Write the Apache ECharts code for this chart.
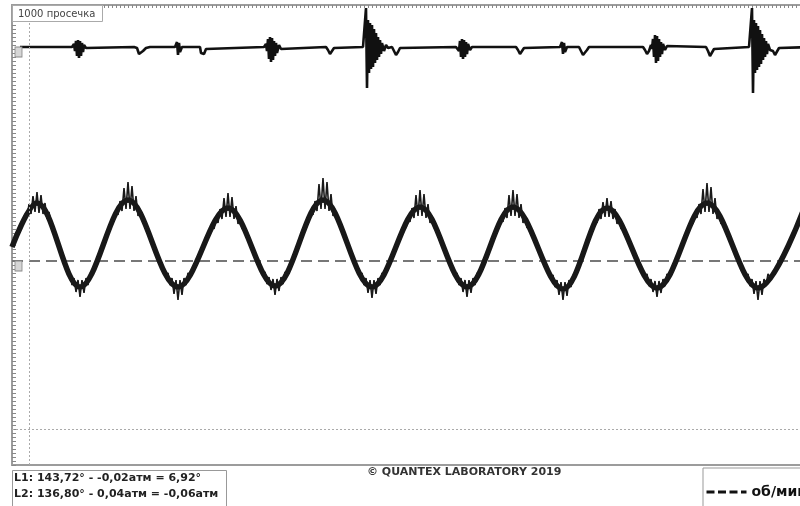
<!DOCTYPE html>
<html>
<head>
<meta charset="utf-8">
<script src="https://cdn.jsdelivr.net/npm/echarts@6.0.0/dist/echarts.min.js"></script>
<style>
  html, body { margin: 0; padding: 0; background: #fff; }
  #chart { width: 800px; height: 506px; }
</style>
</head>
<body>
<div id="chart"></div>
<script>
// канал 1 (верхний) – [мс, уровень]
const ch1Points = [
  [8,418],[60,418],[62,421],[63,414],[64,424],[65,409],[66,425],[67,407],[68,424],[69,409],[70,422],[71,413],[72,420],[74,417],[76,418],
  [122,418],[125,417],[127,411],[129,410],[131,414],[134,417],[138,418],
  [163,418],[165,423],[166,410],[167,422],[168,413],[170,418],
  [188,418],[189,412],[192,411],[194,416],[196,418],
  [252,418],[254,421],[255,414],[256,426],[257,406],[258,428],[259,403],[260,427],[261,405],[262,424],[263,409],[264,422],[265,412],[267,420],[269,416],[271,418],
  [314,418],[316,415],[318,411],[320,413],[322,417],[324,418],
  [351,418],[353,419],[354,457],[355,377],[356,445],[357,392],[358,442],[359,396],[360,440],[361,398],[362,436],[363,402],[364,432],[365,405],[366,428],[367,408],[368,425],[369,411],[370,422],[372,414],[374,420],[376,417],[378,418],
  [380,418],[382,414],[384,410],[386,413],[388,417],[390,418],
  [444,418],[446,420],[447,414],[448,424],[449,408],[450,426],[451,406],[452,425],[453,408],[454,423],[455,411],[456,421],[458,415],[460,418],
  [504,418],[506,415],[508,411],[510,413],[512,417],[514,418],
  [548,418],[550,423],[551,411],[552,422],[553,413],[555,418],
  [567,418],[569,414],[571,410],[573,410],[575,415],[577,418],
  [631,418],[633,415],[635,411],[637,414],[639,420],[640,416],[641,426],[642,408],[643,430],[644,402],[645,429],[646,404],[647,426],[648,408],[649,423],[650,411],[651,421],[653,415],[655,419],[657,418],
  [694,418],[696,414],[698,409],[700,411],[702,416],[704,418],
  [737,418],[739,419],[740,457],[741,372],[742,445],[743,392],[744,442],[745,395],[746,439],[747,398],[748,435],[749,401],[750,431],[751,405],[752,427],[753,408],[754,424],[755,411],[756,421],[758,415],
  [761,414],[763,410],[765,412],[767,417],[769,418],[800,418]
];

// канал 2 (нижний) – основная кривая: пики и впадины
const ch2Wave = [
  [0,218],[25,262],[68,178],[116,265],[166,178],
  [216,257],[263,179],[311,265],[360,178],
  [408,258],[455,178],[501,258],[551,176],
  [595,257],[645,177],[695,262],[746,177],
  [794,262]
];

// канал 2 – шум на вершинах
const ch2PeakNoise = [
  [[11,241],[13,251],[15,247],[17,261],[19,251],[21,269],[23,253],[25,273],[27,252],[29,270],[31,251],[33,262],[35,246],[37,253],[39,241]],
  [[102,244],[104,254],[106,250],[108,264],[110,254],[112,277],[114,256],[116,283],[118,256],[120,279],[122,254],[124,269],[126,249],[128,256],[130,244]],
  [[202,236],[204,246],[206,242],[208,256],[210,246],[212,267],[214,248],[216,272],[218,248],[220,268],[222,246],[224,259],[226,241],[228,248],[230,236]],
  [[297,244],[299,254],[301,250],[303,264],[305,254],[307,281],[309,256],[311,287],[313,256],[315,283],[317,254],[319,271],[321,249],[323,256],[325,244]],
  [[394,237],[396,247],[398,243],[400,257],[402,247],[404,270],[406,249],[408,275],[410,249],[412,271],[414,247],[416,261],[418,242],[420,249],[422,237]],
  [[487,237],[489,247],[491,243],[493,257],[495,247],[497,270],[499,249],[501,275],[503,249],[505,271],[507,247],[509,261],[511,242],[513,249],[515,237]],
  [[581,236],[583,246],[585,242],[587,256],[589,246],[591,263],[593,248],[595,267],[597,248],[599,264],[601,246],[603,256],[605,241],[607,248],[609,236]],
  [[681,241],[683,251],[685,247],[687,261],[689,251],[691,276],[693,253],[695,282],[697,253],[699,278],[701,251],[703,267],[705,246],[707,253],[709,241]]
];

// канал 2 – шум во впадинах
const ch2TroughNoise = [
  [[56,189],[58,192],[60,180],[62,187],[64,173],[66,185],[68,168],[70,185],[72,172],[74,187],[76,180],[78,192],[80,189]],
  [[154,189],[156,192],[158,180],[160,187],[162,171],[164,185],[166,165],[168,185],[170,170],[172,187],[174,180],[176,192],[178,189]],
  [[251,190],[253,193],[255,181],[257,188],[259,175],[261,186],[263,170],[265,186],[267,174],[269,188],[271,181],[273,193],[275,190]],
  [[348,189],[350,192],[352,180],[354,187],[356,172],[358,185],[360,167],[362,185],[364,171],[366,187],[368,180],[370,192],[372,189]],
  [[443,189],[445,192],[447,180],[449,187],[451,173],[453,185],[455,168],[457,185],[459,172],[461,187],[463,180],[465,192],[467,189]],
  [[539,187],[541,190],[543,178],[545,185],[547,170],[549,183],[551,165],[553,183],[555,169],[557,185],[559,178],[561,190],[563,187]],
  [[633,188],[635,191],[637,179],[639,186],[641,173],[643,184],[645,168],[647,184],[649,172],[651,186],[653,179],[655,191],[657,188]],
  [[734,188],[736,191],[738,179],[740,186],[742,171],[744,184],[746,165],[748,184],[750,170],[752,186],[754,179],[756,191],[758,188]]
];

const rpmLine = [[0,204],[800,204]];   // об/мин
const refX = [17];                     // пунктир по вертикали
const refY = [36];                     // пунктир по горизонтали
const chMarks = [[6.5,413],[6.5,199]]; // метки каналов

const labelTop = '1000 просечка';
const cursorText = 'L1: 143,72° - -0,02атм = 6,92°\nL2: 136,80° - 0,04атм = -0,06атм';
const copyright = '© QUANTEX LABORATORY 2019';

const font = 'DejaVu Sans';
const chart = echarts.init(document.getElementById('chart'));

const noiseSeries = ch2PeakNoise.concat(ch2TroughNoise).map(function (d) {
  return {
    type: 'line',
    data: d,
    symbol: 'none',
    silent: true,
    lineStyle: { color: '#1a1a1a', width: 1.6 },
    z: 3
  };
});

chart.setOption({
  animation: false,
  backgroundColor: '#fff',
  textStyle: { fontFamily: font },
  title: [
    {
      text: labelTop,
      left: 12, top: 5,
      padding: [4, 7, 3, 6],
      backgroundColor: '#fff',
      borderColor: '#aaa', borderWidth: 1,
      textStyle: { fontSize: 10, fontWeight: 'normal', color: '#444', fontFamily: font }
    },
    {
      text: cursorText,
      left: 12, top: 470,
      padding: [0, 8, 8, 2],
      backgroundColor: '#fff',
      borderColor: '#999', borderWidth: 1,
      textStyle: { fontSize: 11, fontWeight: 'bold', color: '#222', lineHeight: 16, fontFamily: font }
    },
    {
      text: copyright,
      left: 367, top: 467,
      textStyle: { fontSize: 11, fontWeight: 'bold', color: '#333', fontFamily: font },
      padding: 0
    }
  ],
  legend: {
    left: 703, top: 468,
    padding: [17, 10, 14, 2],
    borderColor: '#999', borderWidth: 1,
    backgroundColor: '#fff',
    itemWidth: 40, itemHeight: 12, itemGap: 6,
    itemStyle: { opacity: 0 },
    textStyle: { fontSize: 14, fontWeight: 'bold', color: '#111', fontFamily: font },
    lineStyle: { color: '#111', width: 3, type: [8, 3.5] },
    data: ['об/мин']
  },
  grid: {
    left: 12, top: 5, width: 800, height: 460,
    show: true, borderColor: '#9c9c9c', borderWidth: 2,
    containLabel: false, outerBoundsMode: 'none'
  },
  xAxis: {
    type: 'value', position: 'top',
    min: 0, max: 800, interval: 4,
    axisLine: { show: false, onZero: false },
    axisTick: { show: true, inside: true, length: 3, lineStyle: { color: '#888', width: 1 } },
    axisLabel: { show: false },
    splitLine: { show: false }
  },
  yAxis: {
    type: 'value', position: 'left',
    min: 0, max: 460, interval: 4,
    axisLine: { show: false, onZero: false },
    axisTick: { show: true, inside: true, length: 4, lineStyle: { color: '#888', width: 1 } },
    axisLabel: { show: false },
    splitLine: { show: false }
  },
  series: [
    {
      name: 'об/мин',
      type: 'line',
      data: rpmLine,
      symbol: 'none',
      silent: true,
      itemStyle: { color: '#111' },
      lineStyle: { color: '#777', width: 2, type: [11, 6] },
      z: 2,
      markLine: {
        silent: true,
        symbol: 'none',
        label: { show: false },
        lineStyle: { color: '#aaa', width: 1, type: [2, 2] },
        data: refX.map(function (v) { return { xAxis: v }; })
          .concat(refY.map(function (v) { return { yAxis: v }; }))
      }
    },
    {
      name: 'канал 2',
      type: 'line',
      data: ch2Wave,
      symbol: 'none',
      smooth: 0.35,
      silent: true,
      lineStyle: { color: '#181818', width: 5.5 },
      z: 3
    }
  ].concat(noiseSeries).concat([
    {
      name: 'канал 1',
      type: 'line',
      data: ch1Points,
      symbol: 'none',
      silent: true,
      lineStyle: { color: '#111', width: 2.6 },
      z: 4,
      markPoint: {
        silent: true,
        symbol: 'rect',
        symbolSize: [7, 10],
        label: { show: false },
        itemStyle: { color: '#d6d6d6', borderColor: '#888', borderWidth: 1 },
        data: chMarks.map(function (c) { return { coord: c }; })
      }
    }
  ])
});
</script>
</body>
</html>
